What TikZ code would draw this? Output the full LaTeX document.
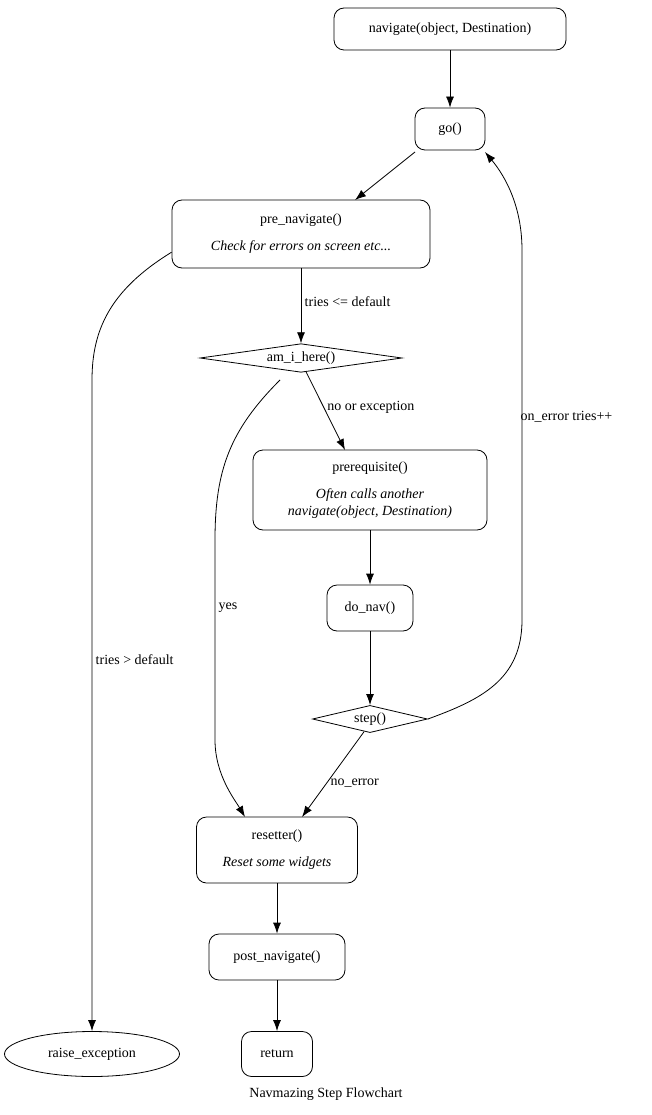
\documentclass[tikz,border=0pt]{standalone}
\usepackage{fontspec}
\setmainfont{Liberation Serif}
\usetikzlibrary{shapes.geometric,arrows.meta}
\tikzset{
  every node/.style={font=\fontsize{14}{17}\selectfont},
  box/.style={draw, rounded corners=10pt, align=center, inner sep=0pt},
  arr/.style={-{Latex[length=11pt,width=8pt]}}
}
\begin{document}
\begin{tikzpicture}[x=1pt,y=-1pt,line width=0.8pt]
\useasboundingbox (0,0) rectangle (652,1115);
\node[box, minimum width=232pt, minimum height=42pt] (nav) at (450,29) {navigate(object, Destination)};
\node[box, minimum width=70pt, minimum height=42pt] (go) at (450,129) {go()};
\node[box, minimum width=258pt, minimum height=68pt] (pre) at (301,234) {pre\_navigate()\\[10pt]\textit{Check for errors on screen etc...}};
\node[draw, diamond, aspect=4.3, minimum width=202pt, inner sep=0pt] (here) at (301,358) {am\_i\_here()};
\node[box, minimum width=234pt, minimum height=80pt] (req) at (370,490) {prerequisite()\\[10pt]\textit{Often calls another}\\\textit{navigate(object, Destination)}};
\node[box, minimum width=86pt, minimum height=46pt] (donav) at (370,608) {do\_nav()};
\node[draw, diamond, aspect=2.2, minimum width=115pt, inner sep=0pt] (step) at (370,719) {step()};
\node[box, minimum width=161pt, minimum height=66pt] (reset) at (277,850) {resetter()\\[10pt]\textit{Reset some widgets}};
\node[box, minimum width=136pt, minimum height=46pt] (post) at (277,957) {post\_navigate()};
\node[box, minimum width=71pt, minimum height=45pt] (ret) at (277,1054) {return};
\node[draw, ellipse, minimum width=175pt, minimum height=45pt, inner sep=0pt] (raise) at (92,1054) {raise\_exception};
\node (title) at (326,1094) {Navmazing Step Flowchart};

\draw[arr] (nav) -- (go);
\coordinate (g1) at (415,152);
\draw[arr] (g1) -- (355,200);
\draw[arr] (pre) -- node[right, pos=0.45] {tries <= default} (here);
\draw[arr] (pre.188) .. controls (110,290) and (92,330) .. (92,380) -- (raise.north)
  node[pos=0.43, right] {tries > default};
\draw[arr] (here.-70) -- node[right, pos=0.45] {no or exception} (345,450);
\draw[arr] (280,380) .. controls (230,430) and (215,470) .. (215,540) -- (215,740)
  node[pos=0.34, right] {yes} .. controls (215,775) and (235,800) .. (245,817);
\draw[arr] (req) -- (donav);
\draw[arr] (donav) -- (step);
\draw[arr] (step.-115) -- node[right, pos=0.6] {no\_error} (302,817);
\draw[arr] (step.east) .. controls (480,700) and (522,680) .. (522,620) -- (522,250)
  node[pos=0.55, right, xshift=-5pt] {on\_error tries++} .. controls (522,200) and (500,170) .. (485,152);
\draw[arr] (reset) -- (post);
\draw[arr] (post) -- (ret);
\end{tikzpicture}
\end{document}
